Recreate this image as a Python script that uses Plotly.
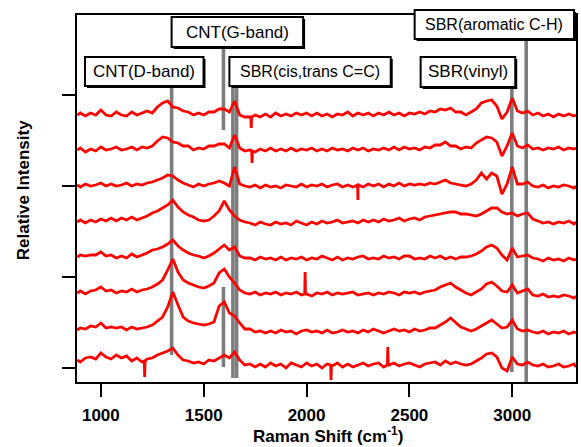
import plotly.graph_objects as go

# ---------------- data ----------------
# Raman shift sampling grid (cm-1)
X_GRID = [885] + list(range(900, 3301, 25)) + [3310]

# baseline offsets of the stacked spectra (top to bottom)
OFFSETS = [253, 217, 182, 146, 111, 75, 38, 5]

# intensities above each baseline, top spectrum first
S1 = ([0, 2, -1, 2, 0, 5, 0, -1, 3, 0, -1, 3, 0, 2, 4, 2]
      + [8, 12, 14, 8, 7, 4, 3, 0, 2, 0, 3, 3, 6, 6, 3, 14, 0, -2]
      + [-2, 0, -2, 1, -2, 2, -1, 1, -1, 2, 0, 2, -1, 2, -1, 1, -2, 1, 0, 3, -1,
         2, 0, 2, -1, 2, 0, 3, 0, 2, -1, 2, 1, 3, 1, 4, 3, 6, 5, 7, 3, 3]
      + [0, 3, 6, 12, 14, 15, 9, -4, 3, 17, 4, 2, 4, 0]
      + [2, -1, 1, -2, 1, -1, 1, -1, 0])
S2 = ([1, 3, -1, 2, 0, 4, 1, 2, 4, 1, 2, 4, 1, 4, 3, 5]
      + [10, 14, 13, 9, 8, 5, 5, 1, 3, 2, 5, 5, 7, 7, 3, 16, 3, 0]
      + [1, -1, 2, 0, 3, 0, 2, 0, 3, 0, 2, 1, 3, 0, 2, 0, 3, 1, 2, 0, 3,
         1, 3, 0, 2, 1, 3, 1, 4, 1, 4, 2, 3, 1, 4, 3, 6, 6, 9, 5, 5, 2]
      + [4, 3, 8, 11, 14, 13, 9, -5, 5, 18, 5, 3, 6, 2]
      + [3, 1, 3, 2, 4, 1, 3, 2, 3])
S3 = ([1, -1, 2, 0, 1, 3, 0, 2, 0, 1, 3, 0, 2, 1, 3, 4]
      + [6, 8, 11, 10, 6, 3, 1, -1, 2, 0, 2, 3, 5, 3, 0, 19, 2, 0]
      + [-1, 1, -2, 1, -1, 0, -2, 1, 0, -1, 2, -1, 1, 0, 2, -1, 1, 2, -1, 1, -1,
         1, -1, 2, 0, 2, -1, 2, 0, 3, 0, 2, 1, 2, 1, 3, 2, 4, 6, 3, 2, 1]
      + [0, 2, 6, 13, 7, 13, 10, -8, 2, 19, 2, 2, 4, 0]
      + [-1, 1, -2, 0, -1, 1, 0, -2, 0])
S4 = ([0, 2, -1, 2, 0, 3, 1, 4, 1, 4, 2, 5, 2, 4, 6, 9]
      + [11, 14, 17, 22, 15, 10, 7, 5, 2, 1, 2, 6, 11, 21, 12, 6, 2, 0]
      + [-1, -3, 0, -2, -3, 0, -2, -1, -3, 1, -1, -3, 0, -2, 1, -1, 0, 2, -1, 0, 1,
         -1, 2, 0, 2, 0, 3, 1, 2, 4, 1, 3, 4, 2, 5, 6, 7, 8, 9, 10, 10, 8]
      + [8, 7, 6, 8, 11, 14, 14, 10, 8, 9, 6, 8, 9, 3]
      + [1, -1, 0, -2, 0, -1, 1, -2, 0])
S5 = ([0, 2, 1, 2, 2, 5, 1, 2, -1, 1, -1, 3, 0, 2, 4, 7]
      + [8, 10, 13, 17, 11, 7, 4, 2, 1, -1, 1, 4, 8, 12, 7, 10, 1, -1]
      + [-1, -3, 0, -2, -1, -3, 0, -3, -1, -2, 0, -3, -1, -2, 1, -1, -3, 0, -3, -1, -2,
         0, 1, -2, -1, -2, 1, -1, 0, -2, 1, 1, -2, -1, -2, 1, -1, 1, -2, 0, -2, 0]
      + [0, 1, 3, 6, 10, 12, 9, 2, -3, 9, 0, 1, 2, -1]
      + [-2, -4, -1, -3, -2, -4, -1, -3, -2])
S6 = ([0, 2, -1, 2, 3, 6, 2, 3, 0, 2, 1, 4, 1, 3, 4, 6]
      + [9, 13, 23, 34, 21, 13, 10, 8, 6, 5, 7, 10, 20, 24, 16, 10, 3, 0]
      + [-1, 1, -2, 0, -1, 1, -2, 0, -1, 1, -2, -1, -3, 0, -1, 1, -2, 0, -1, 0, 1,
         -2, -1, 0, -2, 0, -1, 1, 0, -2, 1, 0, 1, -1, 1, 2, 3, 6, 8, 10, 6, 3]
      + [0, -2, 1, 4, 9, 11, 7, 2, 1, 8, 0, 2, 4, -2]
      + [-3, -1, -4, -3, -4, -2, -3, -5, -3])
S7 = ([0, 2, 1, 4, 3, 7, 2, 3, 2, 3, 0, 3, 1, 2, 3, 5]
      + [9, 13, 23, 38, 25, 13, 9, 7, 6, 5, 6, 8, 24, 28, 17, 14, 7, 1]
      + [1, -2, -1, -3, -1, -3, 0, -2, -1, -4, -1, 0, -2, -1, -3, 0, -3, -2, 0, -2, -1,
         -3, 0, -2, 1, -1, -3, -1, 1, -1, 0, -2, 1, -1, 0, 2, 2, 5, 8, 12, 7, 3]
      + [1, -1, 1, 4, 7, 10, 6, 2, 3, 10, 1, -1, 0, -2]
      + [-3, -1, -4, -2, -3, -1, -4, -2, -3])
S8 = ([3, 1, 5, 6, 4, 10, 6, 4, 8, 5, 7, 2, 5, 1, 4, 5]
      + [8, 10, 12, 15, 8, 3, 2, 0, 1, -1, 3, 2, 5, 8, 5, 11, 3, -2]
      + [-1, -4, -1, -4, 0, -3, -1, -5, 0, -2, -4, 0, -3, -1, -5, -1, -3, 0, -4, -1, -4,
         -2, 0, -3, -1, 0, -4, -2, 0, -3, -1, 0, -2, -4, -1, 0, 1, -2, 2, -1, 1, -1]
      + [-2, -1, 2, 5, 9, 10, 6, -5, -8, 6, -1, -2, 1, -2]
      + [-3, -1, -4, -3, -1, -4, -3, -1, -4])
SPECTRA = [S1, S2, S3, S4, S5, S6, S7, S8]

# narrow single-channel spikes: spectrum index, position, height, local baseline
SPIKE_SPEC = [0, 1, 2, 5, 7, 7, 7]
SPIKE_X = [1731, 1735, 2250, 1993, 1213, 2119, 2395]
SPIKE_H = [-13, -12, -14, 21, -14, -17, 16]
SPIKE_BASE = [-2, 0, 1, -1, 2, -2, -2]

# band assignment lines (cm-1)
LINE_X = [1344, 1596, 1596, 1642, 1660, 2998, 3068]
LINE_Y0 = [13, 238, 1, -10, -10, -4, -14]
LINE_Y1 = [282, 320, 81, 282, 282, 281, 329]

LABELS = ["CNT(G-band)", "CNT(D-band)", "SBR(cis,trans C=C)", "SBR(vinyl)", "SBR(aromatic C-H)"]
LABEL_SIZES = [17, 17, 16, 17, 16]

X_TICKS = [1000, 1500, 2000, 2500, 3000]
Y_TICKS = [0, 91, 182, 273]

# ---------------- figure ----------------
W, H = 581, 447
ML, MR, MT, MB = 77, 3, 15, 65
PW, PH = W - ML - MR, H - MT - MB
FONT = "Liberation Sans, Arial"


def pxx(px):
    return (px - ML) / PW


def pxy(py):
    return (H - MB - py) / PH


fig = go.Figure()

for i, s in enumerate(SPECTRA):
    assert len(s) == len(X_GRID), (i, len(s))
    pts = list(zip(X_GRID, s))
    for k in range(len(SPIKE_X)):
        if SPIKE_SPEC[k] == i:
            pts += [(SPIKE_X[k] - 2, SPIKE_BASE[k]), (SPIKE_X[k], SPIKE_H[k]),
                    (SPIKE_X[k] + 2, SPIKE_BASE[k])]
    pts.sort()
    fig.add_trace(go.Scatter(
        x=[p[0] for p in pts],
        y=[p[1] + OFFSETS[i] for p in pts],
        mode="lines",
        line=dict(color="rgb(255,0,0)", width=2.8),
        showlegend=False, hoverinfo="skip"))

shapes = []
for x, y0, y1 in zip(LINE_X, LINE_Y0, LINE_Y1):
    shapes.append(dict(type="line", xref="x", yref="y", x0=x, x1=x, y0=y0, y1=y1,
                       line=dict(color="rgb(125,125,125)", width=3.6), layer="below"))

# label boxes (pixel positions: left, top, right, bottom)
BOXES = [(172, 17, 304, 47), (85, 57, 204, 86), (230, 57, 392, 86),
         (422, 57, 517, 87), (416, 10, 576, 39)]
annotations = []
for lab, fs, (l, t, r, b) in zip(LABELS, LABEL_SIZES, BOXES):
    shapes.append(dict(type="rect", xref="paper", yref="paper",
                       x0=pxx(l + 2), x1=pxx(r + 2), y0=pxy(b + 2), y1=pxy(t + 2),
                       fillcolor="black", line=dict(width=0), layer="above"))
    shapes.append(dict(type="rect", xref="paper", yref="paper",
                       x0=pxx(l), x1=pxx(r), y0=pxy(b), y1=pxy(t),
                       fillcolor="white", line=dict(color="black", width=2), layer="above"))
    annotations.append(dict(text=lab, xref="paper", yref="paper",
                            x=pxx((l + r) / 2), y=pxy((t + b) / 2),
                            xanchor="center", yanchor="middle", showarrow=False,
                            font=dict(family=FONT, size=fs, color="black")))

annotations.append(dict(text="<b>Raman Shift (cm<sup>-1</sup>)</b>", xref="paper", yref="paper",
                        x=pxx(329), y=pxy(435), xanchor="center", yanchor="middle",
                        showarrow=False,
                        font=dict(family=FONT, size=17, color="black")))
annotations.append(dict(text="<b>Relative Intensity</b>", xref="paper", yref="paper",
                        x=pxx(23), y=pxy(190), xanchor="center", yanchor="middle",
                        textangle=-90, showarrow=False,
                        font=dict(family=FONT, size=17, color="black")))

fig.update_layout(
    width=W, height=H, autosize=False,
    margin=dict(l=ML, r=MR, t=MT, b=MB, pad=0),
    paper_bgcolor="white", plot_bgcolor="white",
    shapes=shapes, annotations=annotations,
    xaxis=dict(range=[884, 3310], tickvals=X_TICKS, ticktext=[f"<b>{v}</b>" for v in X_TICKS],
               ticks="outside", ticklen=13, tickwidth=2, tickcolor="black",
               showline=True, linewidth=2, linecolor="black", mirror=True,
               showgrid=False, zeroline=False, ticklabelstandoff=4,
               tickfont=dict(family=FONT, size=17, color="black")),
    yaxis=dict(range=[-14, 353], tickvals=Y_TICKS, showticklabels=False,
               ticks="outside", ticklen=13, tickwidth=2, tickcolor="black",
               showline=True, linewidth=2, linecolor="black", mirror=True,
               showgrid=False, zeroline=False),
)

fig.write_html("out.html", config={"displayModeBar": False, "staticPlot": True},
               post_script="document.body.style.margin='0';")
